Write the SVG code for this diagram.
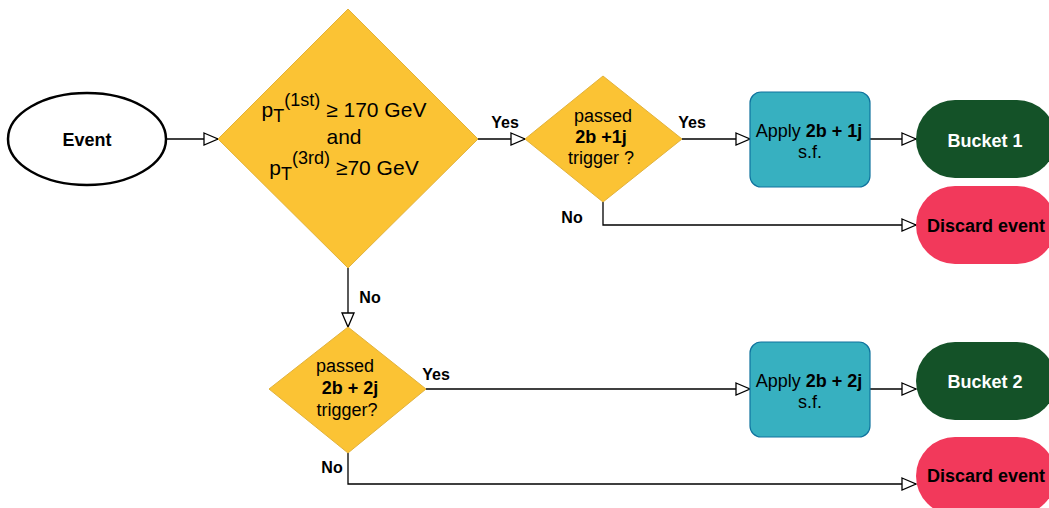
<svg xmlns="http://www.w3.org/2000/svg" width="1049" height="508" viewBox="0 0 1049 508">
  <defs>
    <marker id="open-arrow" markerUnits="userSpaceOnUse" markerWidth="16" markerHeight="14" refX="14.5" refY="6.5" orient="auto" overflow="visible">
      <path d="M0.5,0.5 L14.5,6.5 L0.5,12.5 Z" fill="#ffffff" stroke="#000000" stroke-width="1.3"/>
    </marker>
    <style>
      text { font-family: "Liberation Sans", Arial, sans-serif; fill: #000000; }
      .decision { fill: #FBC334; stroke: #E2B23C; stroke-width: 1; }
      .action { fill: #37B0C0; stroke: #10739E; stroke-width: 1.2; }
      .bucket { fill: #145228; }
      .discard { fill: #F2395B; }
      .start { fill: #ffffff; stroke: #000000; stroke-width: 2.5; }
      .edge { fill: none; stroke: #000000; stroke-width: 1.3; marker-end: url(#open-arrow); }
      .lbl { font-size: 16px; font-weight: bold; text-anchor: middle; }
      .t18 { font-size: 18px; text-anchor: middle; }
      .t21 { font-size: 21px; text-anchor: middle; }
      .sub { font-size: 18px; }
      .b { font-weight: bold; }
      .white { fill: #ffffff; }
    </style>
  </defs>

  <!-- connectors -->
  <g id="connectors">
    <path class="edge" d="M166,139 H218"/>
    <path class="edge" d="M478,139 H525"/>
    <path class="edge" d="M682,139 H750"/>
    <path class="edge" d="M870,139 H916"/>
    <path class="edge" d="M603,202 V225 H916"/>
    <path class="edge" d="M348,268 V327"/>
    <path class="edge" d="M426,389 H750"/>
    <path class="edge" d="M870,389 H916"/>
    <path class="edge" d="M348,453 V484 H916"/>
    <text class="lbl" x="505" y="128">Yes</text>
    <text class="lbl" x="692" y="128">Yes</text>
    <text class="lbl" x="572" y="223">No</text>
    <text class="lbl" x="370" y="303">No</text>
    <text class="lbl" x="436" y="380">Yes</text>
    <text class="lbl" x="332" y="473">No</text>
  </g>

  <!-- start -->
  <g id="event">
    <ellipse class="start" cx="87" cy="139" rx="79" ry="46"/>
    <text class="t18 b" x="87" y="146">Event</text>
  </g>

  <!-- pT cuts -->
  <g id="pt-cut">
    <polygon class="decision" points="348,9 478,139 348,268 218,139"/>
    <text class="t21" x="344" y="117">p<tspan class="sub" dy="5">T</tspan><tspan class="sub" dy="-16">(1st)</tspan><tspan dy="11"> ≥ 170 GeV</tspan></text>
    <text class="t21" x="344" y="144">and</text>
    <text class="t21" x="344" y="175">p<tspan class="sub" dy="5">T</tspan><tspan class="sub" dy="-16">(3rd)</tspan><tspan dy="11"> ≥70 GeV</tspan></text>
  </g>

  <!-- 2b+1j trigger -->
  <g id="trigger-2b1j">
    <polygon class="decision" points="603,76 682,139 603,202 525,139"/>
    <text class="t18" x="603" y="122">passed</text>
    <text class="t18 b" x="601" y="143">2b +1j</text>
    <text class="t18" x="601" y="164">trigger ?</text>
  </g>

  <g id="apply-2b1j">
    <rect class="action" x="750" y="92" width="120" height="95" rx="11"/>
    <text class="t18" x="809" y="137">Apply <tspan class="b">2b + 1j</tspan></text>
    <text class="t18" x="810" y="158">s.f.</text>
  </g>

  <g id="bucket-1">
    <rect class="bucket" x="916" y="100" width="140" height="78" rx="39"/>
    <text class="t18 b white" x="985" y="147">Bucket 1</text>
  </g>

  <g id="discard-1">
    <rect class="discard" x="916" y="186" width="140" height="78" rx="39"/>
    <text class="t18 b" x="986" y="232">Discard event</text>
  </g>

  <!-- 2b+2j trigger -->
  <g id="trigger-2b2j">
    <polygon class="decision" points="348,327 426,389 348,453 269,389"/>
    <text class="t18" x="345" y="372">passed</text>
    <text class="t18 b" x="350" y="394">2b + 2j</text>
    <text class="t18" x="347" y="416">trigger?</text>
  </g>

  <g id="apply-2b2j">
    <rect class="action" x="750" y="342" width="120" height="95" rx="11"/>
    <text class="t18" x="809" y="387">Apply <tspan class="b">2b + 2j</tspan></text>
    <text class="t18" x="810" y="408">s.f.</text>
  </g>

  <g id="bucket-2">
    <rect class="bucket" x="916" y="342" width="140" height="78" rx="39"/>
    <text class="t18 b white" x="985" y="388">Bucket 2</text>
  </g>

  <g id="discard-2">
    <rect class="discard" x="916" y="437" width="140" height="78" rx="39"/>
    <text class="t18 b" x="986" y="482">Discard event</text>
  </g>
</svg>
